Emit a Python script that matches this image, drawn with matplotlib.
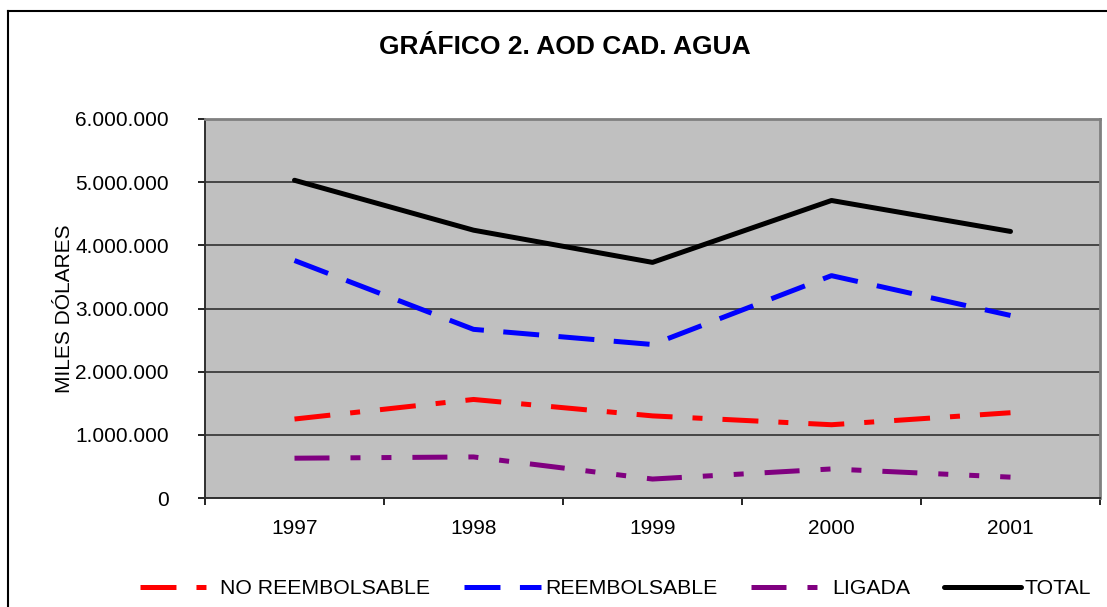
import matplotlib
matplotlib.use("Agg")
from matplotlib import pyplot as plt
from matplotlib.ticker import FuncFormatter, FixedLocator
from matplotlib.lines import Line2D

plt.rcParams['font.family'] = ['Liberation Sans', 'DejaVu Sans']
plt.rcParams['lines.scale_dashes'] = False

# datos (miles de dólares)
years = ['1997', '1998', '1999', '2000', '2001']
no_reembolsable = [1250000, 1560000, 1300000, 1160000, 1350000]
reembolsable = [3760000, 2670000, 2430000, 3520000, 2890000]
ligada = [630000, 650000, 300000, 460000, 330000]
total = [5030000, 4240000, 3730000, 4710000, 4220000]

W, H = 1107, 607
fig = plt.figure(figsize=(W / 100, H / 100), dpi=100)
ax = fig.add_axes([205 / W, 1 - 498 / H, (1100 - 205) / W, (498 - 119) / H])
ax.set_facecolor('#C0C0C0')

x = list(range(len(years)))
lw = 3.6
ax.plot(x, no_reembolsable, color='#FF0000', lw=lw, dashes=(25.9, 14.4, 7.2, 14.4),
        label='NO REEMBOLSABLE')
ax.plot(x, reembolsable, color='#0000FF', lw=lw, dashes=(25.9, 14.0),
        label='REEMBOLSABLE')
ax.plot(x, ligada, color='#800080', lw=lw, dashes=(25.2, 15.1, 7.2, 15.1, 7.2, 15.1),
        label='LIGADA')
ax.plot(x, total, color='black', lw=lw, solid_capstyle='round', label='TOTAL')

ax.set_xlim(-0.5, len(years) - 0.5)
ax.set_ylim(0, 6000000)
ax.set_yticks(range(0, 6000001, 1000000))
ax.yaxis.set_major_formatter(FuncFormatter(lambda v, p: f"{int(v):,}".replace(',', '.')))
ax.grid(axis='y', color='#303030', lw=1.2)
ax.set_axisbelow(True)

# ticks del eje x en los bordes de cada categoría, etiquetas en el centro
ax.xaxis.set_major_locator(FixedLocator([i - 0.5 for i in range(len(years) + 1)]))
ax.xaxis.set_major_formatter(FuncFormatter(lambda v, p: ''))
ax.xaxis.set_minor_locator(FixedLocator(x))
ax.set_xticks(x, years, minor=True)
ax.tick_params(axis='x', which='minor', length=0, pad=15, labelsize=15)
ax.tick_params(axis='x', which='major', length=5, width=1.2, direction='out')
ax.tick_params(axis='y', length=5, width=1.2, direction='out', pad=21, labelsize=15)

for s in ['left', 'bottom']:
    ax.spines[s].set_color('#303030')
    ax.spines[s].set_linewidth(1.4)
for s in ['top', 'right']:
    ax.spines[s].set_color('#808080')
    ax.spines[s].set_linewidth(2)

fig.text(65 / W, 1 - 309 / H, 'MILES DÓLARES', rotation=90, ha='center', va='center',
         fontsize=15)
fig.text(565 / W, 1 - 47 / H, 'GRÁFICO 2. AOD CAD. AGUA', ha='center', va='center',
         fontsize=19, fontweight='bold')

fig.legend(loc='center', bbox_to_anchor=(0.556, 1 - 589 / H), ncol=4, frameon=False,
           fontsize=15.3, handlelength=3.6, handletextpad=0.2, columnspacing=1.6,
           borderpad=0)

# marco exterior
fig.add_artist(Line2D([8 / W, 8 / W], [0, 1 - 11 / H], color='black', lw=1.5,
                      transform=fig.transFigure))
fig.add_artist(Line2D([8 / W, 1], [1 - 11 / H, 1 - 11 / H], color='black', lw=1.5,
                      transform=fig.transFigure))

fig.savefig('out.png', dpi=100)
